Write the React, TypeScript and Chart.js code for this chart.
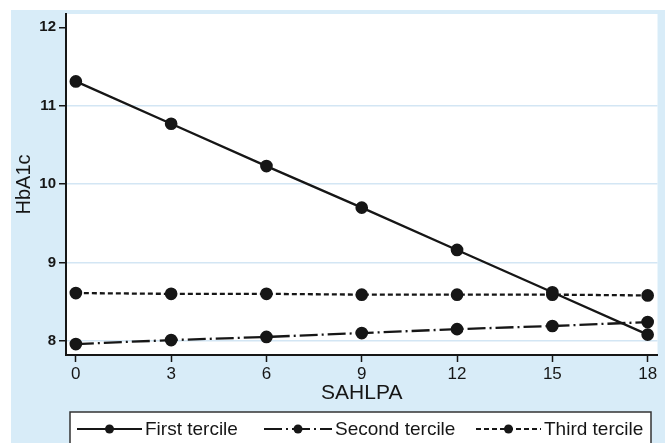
import { useEffect, useRef } from 'react';
import { Chart, registerables } from 'chart.js';

Chart.register(...registerables);

const xValues = [0, 3, 6, 9, 12, 15, 18];
const firstTercile = [11.31, 10.77, 10.23, 9.7, 9.16, 8.62, 8.08];
const secondTercile = [7.96, 8.01, 8.05, 8.1, 8.15, 8.19, 8.24];
const thirdTercile = [8.61, 8.6, 8.6, 8.59, 8.59, 8.59, 8.58];
const seriesNames = ['First tercile', 'Second tercile', 'Third tercile'];
const xTicks = [0, 3, 6, 9, 12, 15, 18];
const yTicks = [8, 9, 10, 11, 12];

const FONT = "'Liberation Sans', Arial, sans-serif";
const INK = '#161616';
const PANEL_BLUE = '#d8ecf8';
const GRID_BLUE = '#d3e6f4';

// blue outer panel + white plot region
const backgroundPlugin = {
  id: 'stataBackground',
  beforeDraw(chart: Chart) {
    const { ctx, chartArea } = chart;
    ctx.save();
    ctx.fillStyle = PANEL_BLUE;
    ctx.fillRect(11, 10, chart.width - 11, chart.height - 10);
    ctx.fillStyle = '#ffffff';
    ctx.fillRect(chartArea.left, chartArea.top, chartArea.right - chartArea.left, chartArea.bottom - chartArea.top);
    ctx.restore();
  },
};

// boxed legend along the bottom, line sample with marker in the middle
const legendPlugin = {
  id: 'tercileLegend',
  afterDraw(chart: Chart) {
    const { ctx } = chart;
    const boxLeft = 70;
    const boxRight = 651;
    const boxTop = 412;
    const rowY = 429;
    const slots = [
      { x0: 77, x1: 142 },
      { x0: 264, x1: 332 },
      { x0: 476, x1: 541 },
    ];
    ctx.save();
    ctx.fillStyle = '#ffffff';
    ctx.fillRect(boxLeft, boxTop, boxRight - boxLeft, chart.height - boxTop + 5);
    ctx.strokeStyle = '#333';
    ctx.lineWidth = 1.5;
    ctx.strokeRect(boxLeft, boxTop, boxRight - boxLeft, chart.height - boxTop + 5);

    chart.data.datasets.forEach((ds: any, i: number) => {
      const s = slots[i];
      ctx.strokeStyle = INK;
      ctx.lineWidth = 2.2;
      ctx.setLineDash(ds.borderDash || []);
      ctx.beginPath();
      ctx.moveTo(s.x0, rowY);
      ctx.lineTo(s.x1, rowY);
      ctx.stroke();
      ctx.setLineDash([]);
      ctx.fillStyle = INK;
      ctx.beginPath();
      ctx.arc((s.x0 + s.x1) / 2, rowY, 4.5, 0, Math.PI * 2);
      ctx.fill();
      ctx.font = `19px ${FONT}`;
      ctx.textBaseline = 'middle';
      ctx.textAlign = 'left';
      ctx.fillText(ds.label, s.x1 + 3, rowY + 1);
    });
    ctx.restore();
  },
};

function toPoints(values: number[]) {
  return values.map((y, i) => ({ x: xValues[i], y }));
}

export default function App() {
  const chartRef = useRef<HTMLCanvasElement>(null);
  const chartInstance = useRef<Chart | null>(null);

  useEffect(() => {
    if (!chartRef.current) return;
    if (chartInstance.current) {
      chartInstance.current.destroy();
    }
    const ctx = chartRef.current.getContext('2d');
    if (!ctx) return;

    const common = {
      borderColor: INK,
      backgroundColor: INK,
      pointBackgroundColor: INK,
      pointBorderColor: INK,
      borderWidth: 2.3,
      pointRadius: 5.2,
      pointHoverRadius: 5.2,
      tension: 0,
    };

    chartInstance.current = new Chart(ctx, {
      type: 'line',
      data: {
        datasets: [
          { ...common, label: seriesNames[0], data: toPoints(firstTercile) },
          { ...common, label: seriesNames[1], data: toPoints(secondTercile), borderDash: [18, 4, 2, 4] },
          { ...common, label: seriesNames[2], data: toPoints(thirdTercile), borderDash: [5, 3] },
        ],
      },
      options: {
        responsive: false,
        animation: false,
        layout: { padding: { left: 0, top: 14, right: 2, bottom: 0 } },
        scales: {
          x: {
            type: 'linear',
            min: -0.31,
            max: 18.31,
            afterBuildTicks: (scale: any) => {
              scale.ticks = xTicks.map((v) => ({ value: v }));
            },
            afterFit: (scale: any) => {
              scale.height = 88;
            },
            border: { color: INK, width: 2 },
            grid: {
              drawOnChartArea: false,
              drawTicks: true,
              tickLength: 7,
              tickColor: INK,
              tickWidth: 1.5,
            },
            ticks: {
              color: INK,
              padding: 2,
              maxRotation: 0,
              font: { family: FONT, size: 17 },
            },
            title: {
              display: true,
              text: 'SAHLPA',
              color: INK,
              font: { family: FONT, size: 21 },
              padding: { top: 0, bottom: 37 },
            },
          },
          y: {
            type: 'linear',
            min: 7.82,
            max: 12.17,
            afterBuildTicks: (scale: any) => {
              scale.ticks = yTicks.map((v) => ({ value: v }));
            },
            afterFit: (scale: any) => {
              scale.width = 66;
            },
            border: { color: INK, width: 2 },
            grid: {
              color: (c: any) => (c.tick && c.tick.value === 12 ? 'rgba(0,0,0,0)' : GRID_BLUE),
              lineWidth: 1.5,
              drawTicks: true,
              tickLength: 7,
              tickColor: INK,
              tickWidth: 1.5,
            },
            ticks: {
              color: INK,
              padding: 3,
              font: { family: FONT, size: 15, weight: 'bold' },
            },
            title: {
              display: true,
              text: 'HbA1c',
              color: INK,
              font: { family: FONT, size: 20 },
              padding: { top: 12, bottom: 0 },
            },
          },
        },
        plugins: {
          legend: { display: false },
          tooltip: { enabled: false },
        },
      },
      plugins: [backgroundPlugin, legendPlugin],
    });

    return () => {
      if (chartInstance.current) {
        chartInstance.current.destroy();
        chartInstance.current = null;
      }
    };
  }, []);

  return (
    <div style={{ position: 'absolute', left: 0, top: 0, width: 665, height: 443 }}>
      <canvas ref={chartRef} width={665} height={443} />
    </div>
  );
}
